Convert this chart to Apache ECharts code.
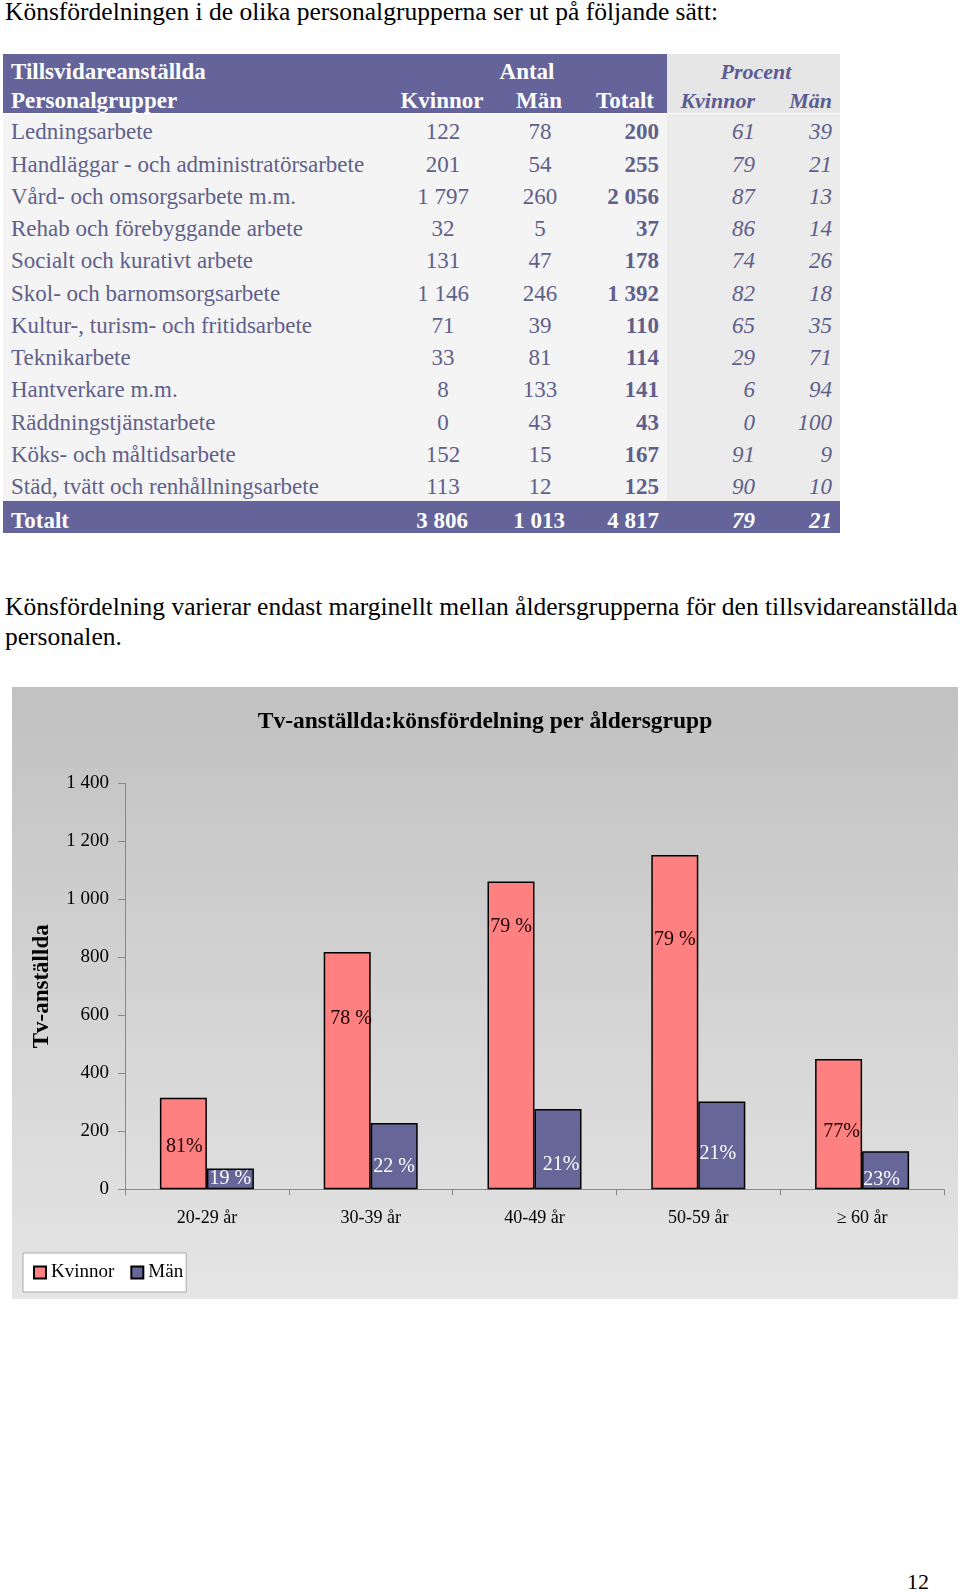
<!DOCTYPE html>
<html>
<head>
<meta charset="utf-8">
<script src="https://cdn.jsdelivr.net/npm/echarts@6.0.0/dist/echarts.min.js"></script>
<style>
  html, body { margin:0; padding:0; background:#fff; }
  body { width:960px; height:1592px; position:relative; overflow:hidden; font-family:"Liberation Serif","Times New Roman",serif; color:#000; }
  .abs { position:absolute; white-space:nowrap; }
  .txt { font-size:25.5px; line-height:30px; }
  .cell { position:absolute; white-space:nowrap; }
  #chart { position:absolute; left:12px; top:687px; width:946px; height:612px; }
</style>
</head>
<body>
<script>
// ---------- Table data ----------
const groups = ['Ledningsarbete','Handläggar - och administratörsarbete','Vård- och omsorgsarbete m.m.','Rehab och förebyggande arbete','Socialt och kurativt arbete','Skol- och barnomsorgsarbete','Kultur-, turism- och fritidsarbete','Teknikarbete','Hantverkare m.m.','Räddningstjänstarbete','Köks- och måltidsarbete','Städ, tvätt och renhållningsarbete'];
const antalKvinnor = [122,201,1797,32,131,1146,71,33,8,0,152,113];
const antalMan = [78,54,260,5,47,246,39,81,133,43,15,12];
const antalTotalt = [200,255,2056,37,178,1392,110,114,141,43,167,125];
const procentKvinnor = [61,79,87,86,74,82,65,29,6,0,91,90];
const procentMan = [39,21,13,14,26,18,35,71,94,100,9,10];
const totalRow = ['Totalt',3806,1013,4817,79,21];

// ---------- Chart data ----------
const ageGroups = ['20-29 år','30-39 år','40-49 år','50-59 år','≥ 60 år'];
const kvinnorCount = [316,818,1061,1153,449];
const manCount = [72,229,277,303,131];
const kvinnorPctLabel = ['81%','78 %','79 %','79 %','77%'];
const manPctLabel = ['19 %','22 %','21%','21%','23%'];
const yTickValues = [0,200,400,600,800,1000,1200,1400];
</script>

<div class="abs txt" style="left:5px; top:-3px;">Könsfördelningen i de olika personalgrupperna ser ut på följande sätt:</div>

<div id="table"></div>

<div class="abs txt" style="left:5px; top:592px;">Könsfördelning varierar endast marginellt mellan åldersgrupperna för den tillsvidareanställda</div>
<div class="abs txt" style="left:5px; top:622px;">personalen.</div>

<div id="chart"></div>

<div class="abs" style="left:880px; top:1567px; width:49px; text-align:right; font-size:22px; line-height:30px;">12</div>

<script>
function fmt(n){ return String(n).replace(/\B(?=(\d{3})+(?!\d))/g,' '); }
const tbl = document.getElementById('table');
function box(l,t,w,h,bg){
  const d=document.createElement('div');
  d.style.cssText='position:absolute;left:'+l+'px;top:'+t+'px;width:'+w+'px;height:'+h+'px;background:'+bg+';';
  tbl.appendChild(d);
}
function text(str, x, cy, align, style){
  const d=document.createElement('div');
  d.className='cell';
  const h=32;
  let left, w=300;
  if(align==='left'){ left=x; }
  else if(align==='center'){ left=x-w/2; }
  else { left=x-w; }
  d.style.cssText='position:absolute;white-space:nowrap;left:'+left+'px;top:'+(cy-h/2)+'px;width:'+w+'px;height:'+h+'px;line-height:'+h+'px;text-align:'+align+';'+style;
  d.textContent=str;
  tbl.appendChild(d);
}
const purple='#64649a', bodyTxt='#5f5f8a';
box(3,54,664,59.3,purple);
box(667,54,173,59.3,'#e6e6e6');
box(3,114,664,387,'#f4f4f4');
box(667,114,173,387,'#ebebeb');
box(3,500.7,837,32,purple);

const hB='font-size:23px;font-weight:bold;color:#fff;';
const hP='font-size:22px;font-weight:bold;font-style:italic;color:#5c5c94;';
text('Tillsvidareanställda',11,72,'left',hB);
text('Antal',527,72,'center',hB);
text('Procent',756,72,'center',hP);
text('Personalgrupper',11,101,'left',hB);
text('Kvinnor',442,101,'center',hB);
text('Män',539,101,'center',hB);
text('Totalt',654,101,'right',hB);
text('Kvinnor',755,101,'right',hP);
text('Män',832,101,'right',hP);

const bS='font-size:23px;color:'+bodyTxt+';';
const bB='font-size:23px;font-weight:bold;color:'+bodyTxt+';';
const bI='font-size:23px;font-style:italic;color:'+bodyTxt+';';
const rowTop=117.2, rowH=32.27;
for(let i=0;i<groups.length;i++){
  const cy=rowTop+rowH*(i+0.5)-1;
  text(groups[i],11,cy,'left',bS);
  text(fmt(antalKvinnor[i]),443,cy,'center',bS);
  text(fmt(antalMan[i]),540,cy,'center',bS);
  text(fmt(antalTotalt[i]),659,cy,'right',bB);
  text(fmt(procentKvinnor[i]),755,cy,'right',bI);
  text(fmt(procentMan[i]),832,cy,'right',bI);
}
const tS='font-size:23px;font-weight:bold;color:#fff;';
const tI='font-size:23px;font-weight:bold;font-style:italic;color:#fff;';
text(totalRow[0],11,521,'left',tS);
text(fmt(totalRow[1]),442,521,'center',tS);
text(fmt(totalRow[2]),539,521,'center',tS);
text(fmt(totalRow[3]),659,521,'right',tS);
text(fmt(totalRow[4]),755,521,'right',tI);
text(fmt(totalRow[5]),832,521,'right',tI);

// ---------- Chart ----------
const kOffsets = [[1,3],[4,-52],[0,-109],[0,-82],[3,8]];
const mOffsets = [[0,0],[0,11],[3,16],[-4,8],[-4,9]];
const FONT = 'Liberation Serif';
const chart = echarts.init(document.getElementById('chart'));
chart.setOption({
  backgroundColor: {
    type:'linear', x:0, y:0, x2:0, y2:1,
    colorStops:[{offset:0,color:'#c1c1c1'},{offset:1,color:'#e5e5e5'}]
  },
  animation:false,
  title:{
    text:'Tv-anställda:könsfördelning per åldersgrupp',
    left:'center', top:18,
    textStyle:{fontFamily:FONT,fontSize:23.5,fontWeight:'bold',color:'#000'}
  },
  legend:{
    data:['Kvinnor','Män'],
    left:11, top:566,
    padding:[10,3,10,10],
    itemGap:16, itemWidth:12, itemHeight:12,
    backgroundColor:'#fff', borderColor:'#aaa', borderWidth:1,
    icon:'rect',
    textStyle:{fontFamily:FONT,fontSize:19,color:'#000'}
  },
  grid:{left:113, top:96.3, width:819, height:406},
  xAxis:{
    type:'category', data:ageGroups,
    axisLine:{lineStyle:{color:'#888',width:1}},
    axisTick:{show:true,length:6,lineStyle:{color:'#888'}},
    axisLabel:{fontFamily:FONT,fontSize:18,color:'#000',margin:20}
  },
  yAxis:{
    type:'value', min:0, max:1400, interval:200,
    name:'Tv-anställda', nameLocation:'middle', nameGap:71, nameRotate:90,
    nameTextStyle:{fontFamily:FONT,fontSize:23,fontWeight:'bold',color:'#000'},
    axisLine:{show:true,lineStyle:{color:'#888',width:1}},
    axisTick:{show:true,length:7,lineStyle:{color:'#888'}},
    splitLine:{show:false},
    axisLabel:{fontFamily:FONT,fontSize:19,color:'#000',margin:16,
      formatter:v=>fmt(v)}
  },
  series:[
    {
      name:'Kvinnor', type:'bar', barWidth:47, barGap:'0%',
      itemStyle:{color:'#ff8080',borderColor:'#000',borderWidth:1.5},
      data:kvinnorCount.map((v,i)=>({value:v,label:{show:true,position:'inside',offset:kOffsets[i],formatter:kvinnorPctLabel[i]}})),
      label:{fontFamily:FONT,fontSize:20,color:'#1a0000'}
    },
    {
      name:'Män', type:'bar', barWidth:47, barGap:'0%',
      itemStyle:{color:'#666699',borderColor:'#000',borderWidth:1.5},
      data:manCount.map((v,i)=>({value:v,label:{show:true,position:'inside',offset:mOffsets[i],formatter:manPctLabel[i]}})),
      label:{fontFamily:FONT,fontSize:20,color:'#fff'}
    }
  ]
});
</script>
</body>
</html>
